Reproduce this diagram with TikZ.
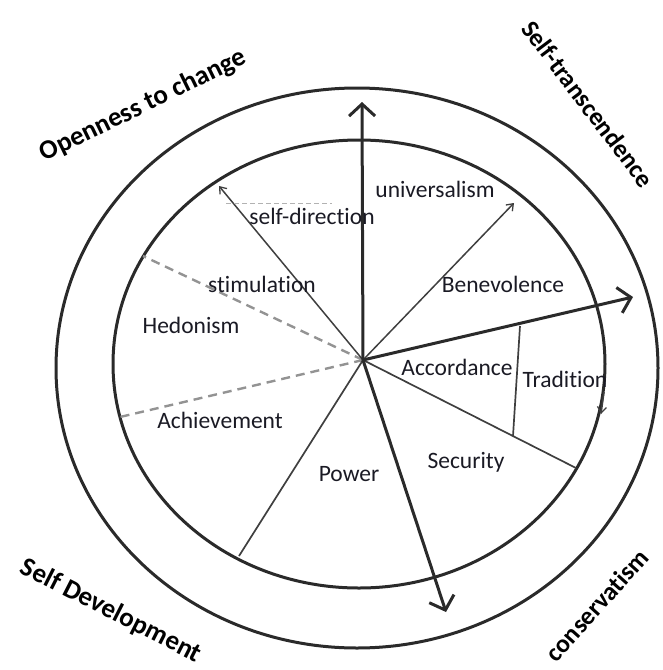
\documentclass[tikz,border=0pt]{standalone}
\usepackage{fontspec}
\setmainfont{Carlito}[Ligatures=NoCommon]
\usetikzlibrary{arrows.meta}
\definecolor{ink}{HTML}{2A2A2A}
\definecolor{txt}{HTML}{1A1A24}
\tikzset{
  ring/.style={draw=ink, line width=3pt},
  spoke/.style={draw=ink!90, line width=1.7pt},
  dashspoke/.style={draw=gray!85, line width=2.4pt, dash pattern=on 9pt off 6pt},
  bigarrow/.style={draw=ink, line width=3pt, -{Straight Barb[length=12pt,width=26pt,line width=3pt]}},
  tinyarrow/.style={draw=ink!90, line width=1.5pt, -{Straight Barb[length=6pt,width=9pt,line width=1.3pt]}},
  lab/.style={text=txt, font=\fontsize{23.5}{25}\selectfont, inner sep=0pt},
  outer/.style={text=black, font=\bfseries\fontsize{27}{29}\selectfont, inner sep=0pt},
  outersm/.style={text=black, font=\bfseries\fontsize{25.5}{27}\selectfont, inner sep=0pt}
}
\begin{document}
\begin{tikzpicture}[x=1pt,y=-1pt]
\useasboundingbox (0,0) rectangle (662,670);
% rings
\draw[ring] (357,368) ellipse [x radius=301pt, y radius=280pt];
\draw[ring] (359,364) ellipse [x radius=246pt, y radius=224pt];
% hub and end points
\coordinate (h) at (363,360);
\coordinate (up) at (362,102);
\coordinate (rt) at (633,297);
\coordinate (dn) at (446,612);
\coordinate (sd) at (219,186);
\coordinate (un) at (514,203);
\coordinate (se) at (576,468);
\coordinate (pw) at (239,556);
\coordinate (ac) at (120,417);
\coordinate (st) at (143,256);
\coordinate (tra) at (520,326);
\coordinate (trb) at (513,436);
\coordinate (sda) at (226,203);
\coordinate (sdb) at (332,203);
\coordinate (tka) at (604,392);
\coordinate (tkb) at (601,414);
% spokes
\draw[dashspoke] (h) -- (st);
\draw[dashspoke] (h) -- (ac);
\draw[tinyarrow] (h) -- (sd);
\draw[tinyarrow] (h) -- (un);
\draw[spoke] (h) -- (se);
\draw[spoke] (h) -- (pw);
\draw[spoke] (tra) -- (trb);
\draw[draw=gray!60, line width=1pt, dash pattern=on 5pt off 3pt] (sda) -- (sdb);
\draw[tinyarrow] (tka) -- (tkb);
% big arrows
\draw[bigarrow] (h) -- (up);
\draw[bigarrow] (h) -- (rt);
\draw[bigarrow] (h) -- (dn);
% inner labels
\node[lab] (l1) at (435,189) {universalism};
\node[lab] (l2) at (312,216) {self-direction};
\node[lab] (l3) at (262,284) {stimulation};
\node[lab] (l4) at (191,325) {Hedonism};
\node[lab] (l5) at (220,420) {Achievement};
\node[lab] (l6) at (503,284) {Benevolence};
\node[lab] (l7) at (457,367) {Accordance};
\node[lab] (l8) at (565,379) {Tradition};
\node[lab] (l9) at (466,462) {Security};
\node[lab] (l10) at (349,474) {Power};
% outer labels
\node[outer, rotate=26] (o1) at (143,106) {Openness to change};
\node[outersm, rotate=-53] (o2) at (588,104) {Self-transcendence};
\node[outer, rotate=-27] (o3) at (111,611) {Self Development};
\node[outersm, rotate=48] (o4) at (597,605) {conservatism};
\end{tikzpicture}
\end{document}
